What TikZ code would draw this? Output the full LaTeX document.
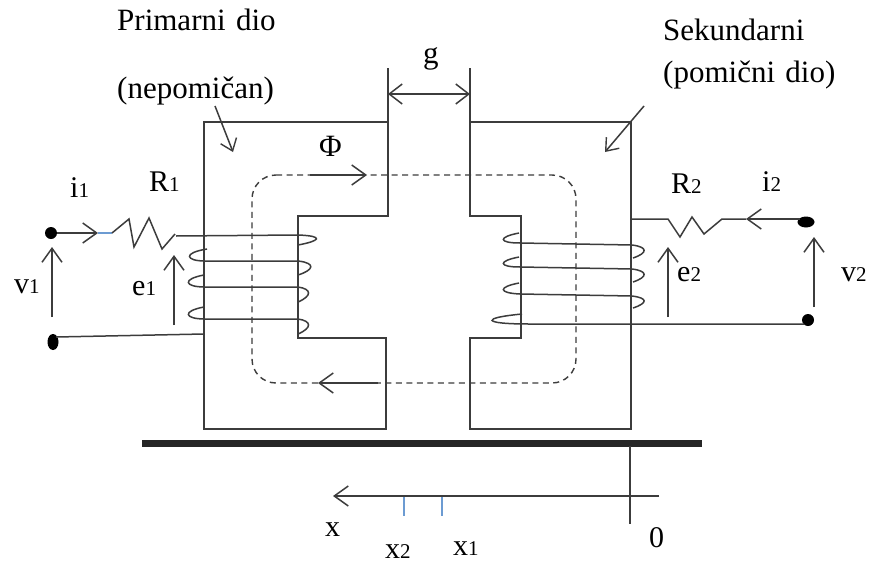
\documentclass[tikz,border=0pt]{standalone}
\usepackage{fontspec}
\setmainfont{Liberation Serif}
\usetikzlibrary{arrows.meta,shapes.geometric}
\definecolor{ink}{HTML}{3C3C3C}
\definecolor{tick}{HTML}{6C9BD2}
\newcommand{\bigt}[1]{{\fontsize{31}{33}\selectfont #1}}
\newcommand{\lab}[2]{{\fontsize{30}{32}\selectfont #1}{\fontsize{21}{24}\selectfont #2}}
\tikzset{
  wire/.style={draw=ink,line width=1.5pt,line join=miter},
  coil/.style={draw=ink,line width=1.5pt},
  arr/.style={wire,-{Straight Barb[length=14pt,width=20pt,line width=1.5pt]}},
  arrsm/.style={wire,-{Straight Barb[length=11pt,width=17pt,line width=1.4pt]}},
  flux/.style={draw=ink,line width=1.4pt,dash pattern=on 6pt off 4.5pt,rounded corners=24pt},
  term/.style={ellipse,fill=black,inner sep=0pt},
  txt/.style={inner sep=0pt,text=black,anchor=base west},
  ticker/.style={draw=tick,line width=1.3pt}
}
\begin{document}
\begin{tikzpicture}[x=1pt,y=-1pt]
\useasboundingbox (0,0) rectangle (870,565);
\fill[white] (0,0) rectangle (870,565);
% cores
\draw[wire] (388,68) -- (388,122) -- (204,122) -- (204,429) -- (386,429) -- (386,338) -- (298,338) -- (298,216) -- (388,216) -- (388,122);
\draw[wire] (470,68) -- (470,216) -- (521,216) -- (521,338) -- (470,338) -- (470,429) -- (631,429) -- (631,122) -- (470,122);
% flux
\draw[flux] (252,175) -- (576,175) -- (576,383) -- (252,383) -- cycle;
\coordinate (fa) at (310,175); \coordinate (fb) at (367,175);
\coordinate (fc) at (378,383); \coordinate (fd) at (318,383);
\draw[arr] (fa) -- (fb);
\draw[arr] (fc) -- (fd);
% g
\coordinate (ga) at (388,94); \coordinate (gb) at (470,94);
\draw[wire,{Straight Barb[length=13pt,width=20pt,line width=1.5pt]}-{Straight Barb[length=13pt,width=20pt,line width=1.5pt]}] (ga) -- (gb);
% terminals
\node[term,minimum width=12pt,minimum height=12pt] (t1) at (51,233) {};
\node[term,minimum width=11pt,minimum height=16pt] (t2) at (53,342) {};
\node[term,minimum width=17pt,minimum height=11pt] (t3) at (806,222) {};
\node[term,minimum width=12pt,minimum height=12pt] (t4) at (808,320) {};
\coordinate (t2e) at (56,337);
\coordinate (t3w) at (800,219);
\coordinate (t4w) at (804,324);
% left circuit
\coordinate (i1) at (98,233);
\draw[arr] (t1) -- (i1);
\draw[ticker] (i1) -- (112,233);
\draw[wire] (112,233) -- (129,219) -- (134,247) -- (149,218) -- (162,249) -- (175,234);
\draw[wire] (t2e) -- (204,334);
\draw[coil] (176,236) -- (298,235) .. controls (325,236) and (320,241) .. (298,245);
\draw[coil] (207,249) .. controls (182,253) and (186,261) .. (205,261) -- (298,261) .. controls (316,263) and (314,270) .. (298,275);
\draw[coil] (204,275) .. controls (182,279) and (184,287) .. (205,287) -- (298,287) .. controls (312,289) and (312,296) .. (298,302);
\draw[coil] (204,307) .. controls (182,311) and (184,319) .. (205,319) -- (298,319) .. controls (312,321) and (312,328) .. (298,334);
% right circuit
\coordinate (i2) at (746,219);
\draw[wire] (631,219) -- (668,219) -- (680,237) -- (692,217) -- (704,234) -- (722,219) -- (i2);
\draw[arr] (t3w) -- (i2);
\draw[coil] (519,233) .. controls (498,237) and (498,243) .. (520,243) -- (632,245) .. controls (648,247) and (648,253) .. (633,258);
\draw[coil] (519,257) .. controls (498,261) and (498,267) .. (520,267) -- (632,269) .. controls (648,271) and (648,277) .. (633,282);
\draw[coil] (519,283) .. controls (498,287) and (498,293) .. (520,294) -- (632,296) .. controls (648,298) and (648,303) .. (633,308);
\draw[coil] (522,314) .. controls (480,318) and (482,324) .. (529,324) -- (t4w);
% voltage arrows
\coordinate (v1a) at (52,317); \coordinate (v1b) at (52,247);
\coordinate (e1a) at (174,325); \coordinate (e1b) at (174,255);
\coordinate (e2a) at (668,317); \coordinate (e2b) at (668,247);
\coordinate (v2a) at (814,307); \coordinate (v2b) at (814,237);
\draw[arr] (v1a) -- (v1b);
\draw[arr] (e1a) -- (e1b);
\draw[arr] (e2a) -- (e2b);
\draw[arr] (v2a) -- (v2b);
% pointers
\coordinate (p1a) at (215,106); \coordinate (p1b) at (233,152);
\coordinate (p2a) at (644,106); \coordinate (p2b) at (605,152);
\draw[arrsm] (p1a) -- (p1b);
\draw[arrsm] (p2a) -- (p2b);
% bar and axis
\draw[draw=black!85,line width=7pt] (142,443) -- (702,443);
\draw[wire] (630,446) -- (630,524);
\coordinate (xa) at (659,496); \coordinate (xb) at (333,496);
\draw[arr] (xa) -- (xb);
\draw[ticker] (404,497) -- (404,516);
\draw[ticker] (442,497) -- (442,516);
% labels
\node[txt] (l1) at (117,30) {\bigt{Primarni\,\,dio}};
\node[txt] (l2) at (117,98) {\bigt{(nepomičan)}};
\node[txt] (l3) at (663,40) {\bigt{Sekundarni}};
\node[txt] (l4) at (663,82) {\bigt{(pomični\,\,dio)}};
\node[txt] (lg) at (423,63) {\bigt{g}};
\node[txt] (lphi) at (319,156) {\bigt{Φ}};
\node[txt] (li1) at (70,197) {\lab{i}{1}};
\node[txt] (lr1) at (149,191) {\lab{R}{1}};
\node[txt] (lr2) at (671,193) {\lab{R}{2}};
\node[txt] (li2) at (762,191) {\lab{i}{2}};
\node[txt] (lv1) at (14,293) {\lab{v}{1}};
\node[txt] (le1) at (132,295) {\lab{e}{1}};
\node[txt] (le2) at (677,281) {\lab{e}{2}};
\node[txt] (lv2) at (841,281) {\lab{v}{2}};
\node[txt] (lx) at (325,536) {\lab{x}{}};
\node[txt] (lx2) at (385,558) {\lab{x}{2}};
\node[txt] (lx1) at (453,555) {\lab{x}{1}};
\node[txt] (l0) at (649,547) {\lab{0}{}};
\end{tikzpicture}
\end{document}
